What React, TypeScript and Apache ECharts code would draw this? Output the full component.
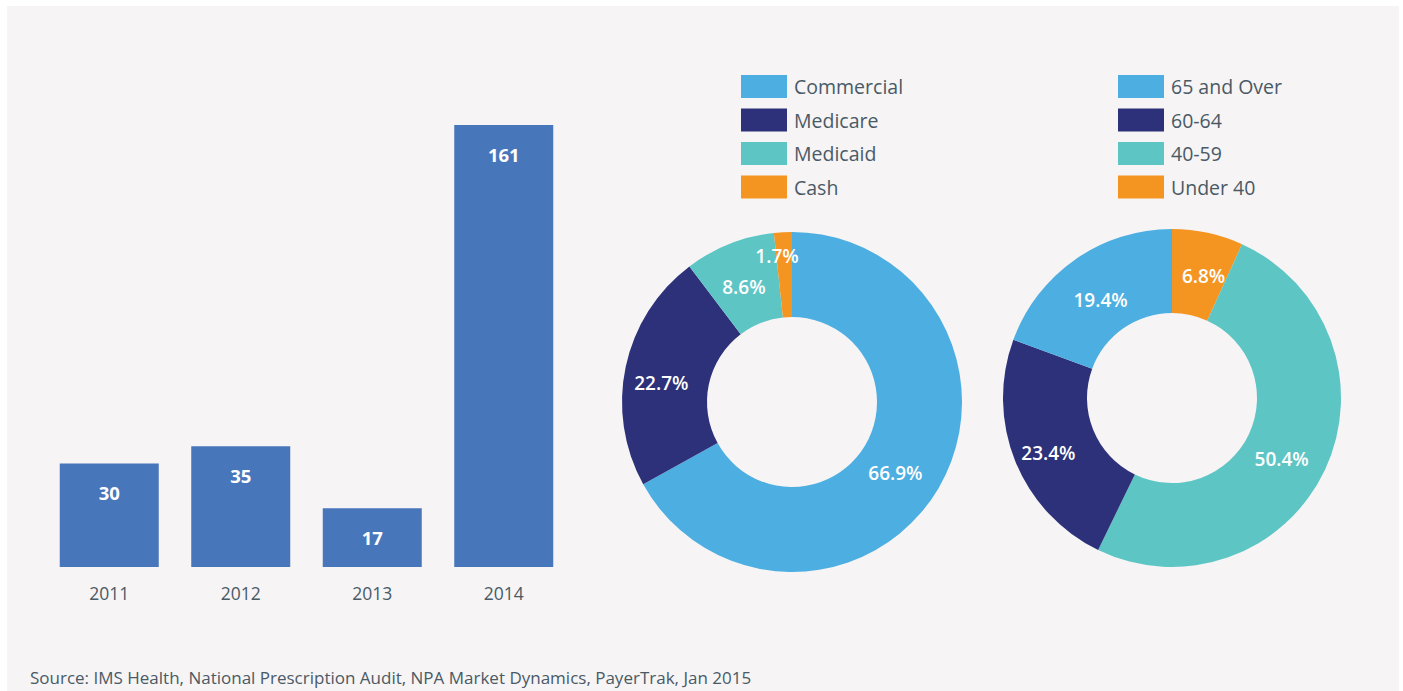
import React, { useEffect, useRef } from "react";
import * as echarts from "echarts";

const years = ["2011", "2012", "2013", "2014"];
const yearValues = [30, 35, 17, 161];

const payerNames = ["Commercial", "Medicare", "Medicaid", "Cash"];
const payerValues = [66.9, 22.7, 8.6, 1.7];

const ageNames = ["Under 40", "40-59", "60-64", "65 and Over"];
const ageValues = [6.8, 50.4, 23.4, 19.4];
const ageLegendOrder = ["65 and Over", "60-64", "40-59", "Under 40"];

const sourceText =
  "Source: IMS Health, National Prescription Audit, NPA Market Dynamics, PayerTrak, Jan 2015";

const FONT = "'Open Sans'";
const TXT = "#4a5a66";
const C_LIGHT = "#4daee1";
const C_NAVY = "#2d3179";
const C_TEAL = "#5ec5c5";
const C_ORANGE = "#f49421";
const C_BAR = "#4876bb";

const payerColors: Record<string, string> = {
  Commercial: C_LIGHT,
  Medicare: C_NAVY,
  Medicaid: C_TEAL,
  Cash: C_ORANGE,
};
const ageColors: Record<string, string> = {
  "65 and Over": C_LIGHT,
  "60-64": C_NAVY,
  "40-59": C_TEAL,
  "Under 40": C_ORANGE,
};

const payerLabelOffsets: Record<string, number[]> = {
  Commercial: [-9, 5],
  Medicare: [-3, 8],
  Medicaid: [0, 6],
  Cash: [-8, -16],
};
const ageLabelOffsets: Record<string, number[]> = {
  "Under 40": [4, 5],
  "40-59": [-8, 6],
  "60-64": [-3, 6],
  "65 and Over": [3, 9],
};

export default function App() {
  const ref = useRef<HTMLDivElement>(null);
  useEffect(() => {
    if (!ref.current) return;
    const chart = echarts.init(ref.current, null, { renderer: "svg" });
    const labelBase = {
      show: true,
      position: "inside",
      color: "#ffffff",
      fontFamily: FONT,
      fontWeight: 600,
      fontSize: 19,
      formatter: "{c}%",
    };
    const legendBase = {
      orient: "vertical",
      icon: "rect",
      itemWidth: 46,
      itemHeight: 23,
      itemGap: 10.5,
      top: 75,
      padding: 0,
      textStyle: {
        color: TXT,
        fontFamily: FONT,
        fontSize: 19.5,
        padding: [0, 0, 2, 2],
      },
      selectedMode: false,
    };
    chart.setOption({
      animation: false,
      backgroundColor: "#ffffff",
      graphic: [
        {
          type: "rect",
          z: -10,
          shape: { x: 7, y: 6, width: 1392, height: 690 },
          style: { fill: "#f6f4f5" },
        },
        {
          type: "text",
          left: 30,
          top: 669,
          style: {
            text: sourceText,
            fill: TXT,
            font: `17px ${FONT}`,
          },
        },
      ],
      legend: [
        {
          ...legendBase,
          left: 741,
          data: payerNames,
        },
        {
          ...legendBase,
          left: 1118,
          data: ageLegendOrder,
        },
      ],
      grid: { left: 43.5, width: 526, top: 125, bottom: 124 },
      xAxis: {
        type: "category",
        data: years,
        axisLine: { show: false },
        axisTick: { show: false },
        axisLabel: {
          color: TXT,
          fontFamily: FONT,
          fontSize: 17.5,
          margin: 17,
        },
      },
      yAxis: {
        type: "value",
        min: 0,
        max: 161,
        show: false,
        splitLine: { show: false },
        breaks: [{ start: 60, end: 93, gap: 0 }],
        breakArea: { show: false },
      },
      series: [
        {
          type: "bar",
          data: yearValues,
          barWidth: 99,
          itemStyle: { color: C_BAR },
          label: {
            show: true,
            position: "insideTop",
            distance: 20,
            color: "#ffffff",
            fontFamily: FONT,
            fontWeight: "bold",
            fontSize: 18.5,
          },
        },
        {
          type: "pie",
          center: [792, 402],
          radius: [85, 170],
          startAngle: 90,
          clockwise: true,
          label: labelBase,
          labelLine: { show: false },
          emphasis: { disabled: true },
          data: payerNames.map((n, i) => ({
            name: n,
            value: payerValues[i],
            itemStyle: { color: payerColors[n] },
            label: { offset: payerLabelOffsets[n] },
          })),
        },
        {
          type: "pie",
          center: [1172, 398],
          radius: [85, 169],
          startAngle: 90,
          clockwise: true,
          label: labelBase,
          labelLine: { show: false },
          emphasis: { disabled: true },
          data: ageNames.map((n, i) => ({
            name: n,
            value: ageValues[i],
            itemStyle: { color: ageColors[n] },
            label: { offset: ageLabelOffsets[n] },
          })),
        },
      ],
    });
    return () => chart.dispose();
  }, []);
  return (
    <div
      ref={ref}
      style={{ position: "fixed", left: 0, top: 0, width: 1403, height: 691 }}
    />
  );
}
